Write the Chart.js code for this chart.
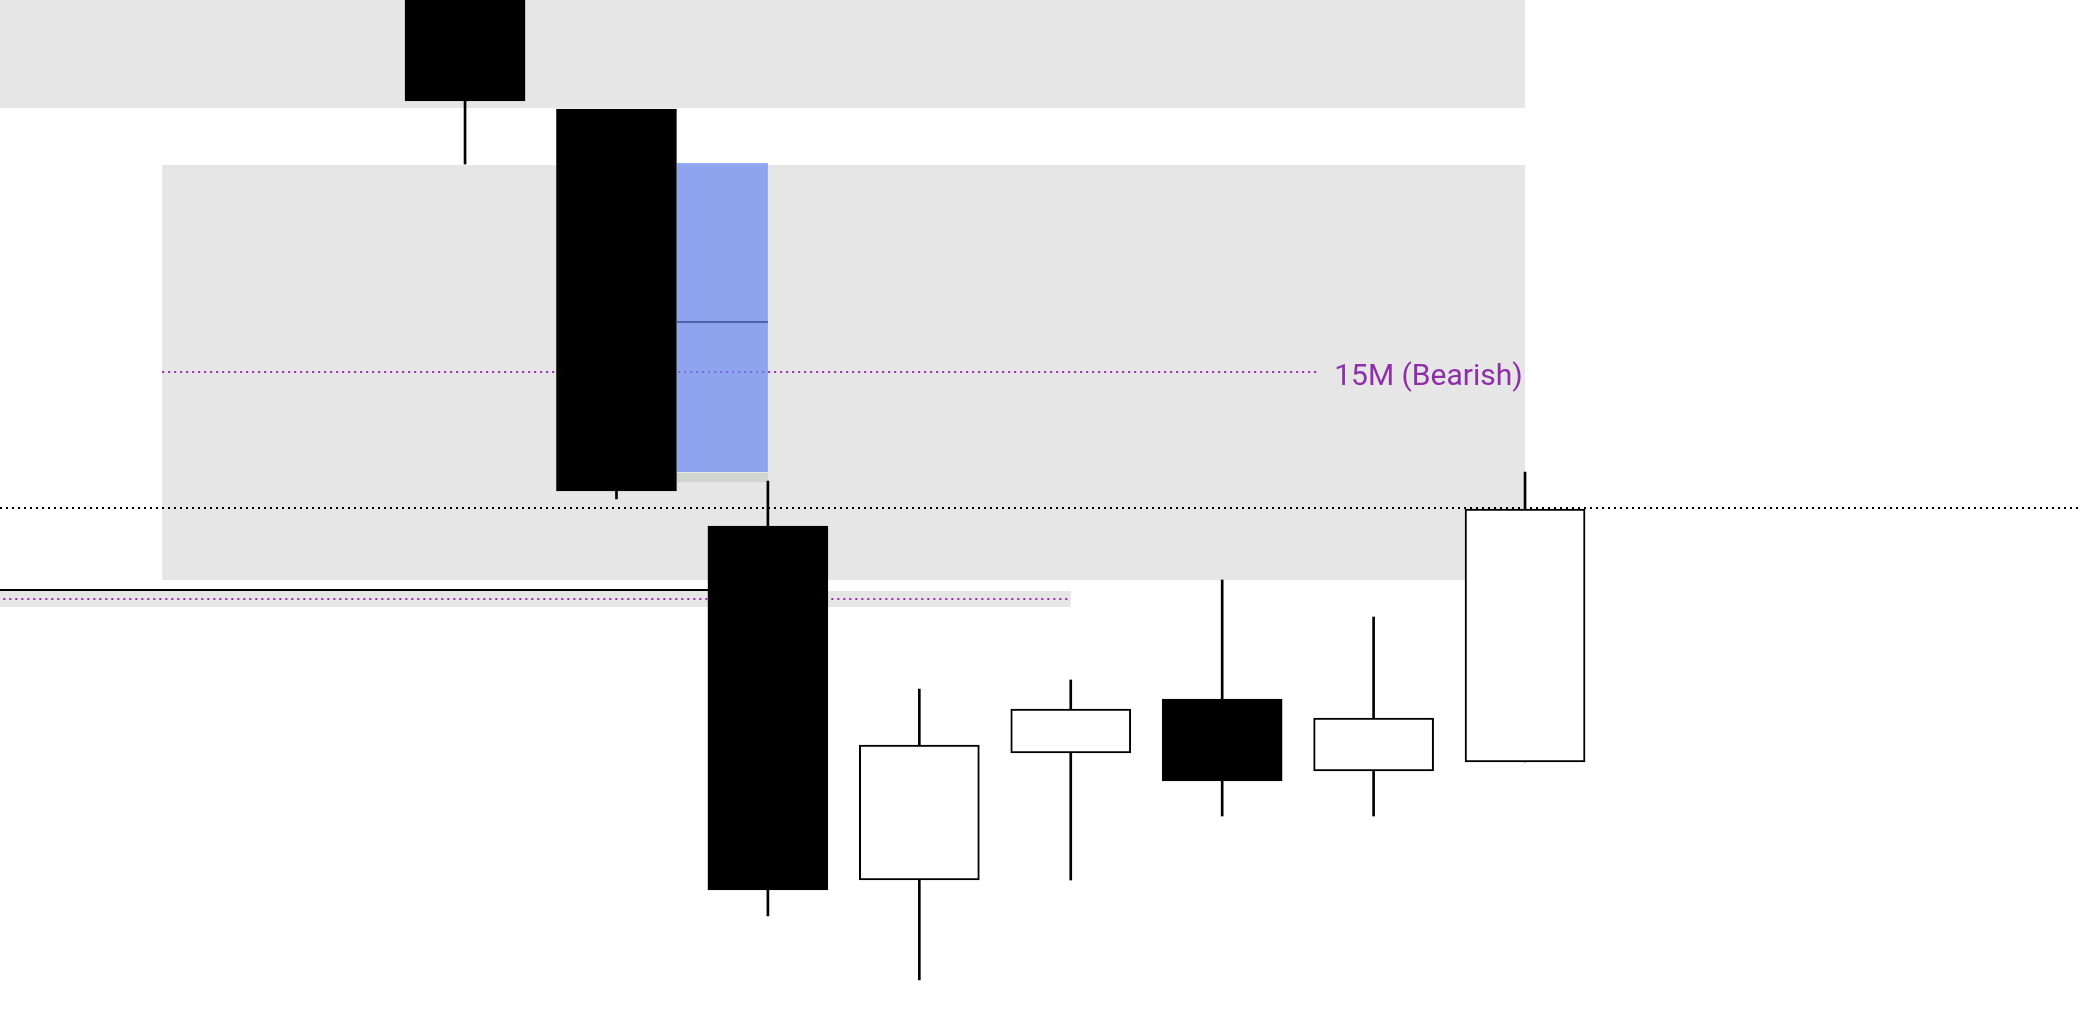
<!DOCTYPE html>
<html>
<head>
<meta charset="utf-8">
<script src="https://cdn.jsdelivr.net/npm/chart.js@4.4.0/dist/chart.umd.min.js"></script>
<style>
  html, body { margin: 0; padding: 0; background: #fff; }
  #wrap { width: 2082px; height: 1024px; }
</style>
</head>
<body>
<div id="wrap"><canvas id="chart" width="2082" height="1024"></canvas></div>
<script>
// --- CANDLES (bar index, OHLC) ---
const candleIdx = [0, 1, 2, 3, 4, 5, 6, 7];
const opens  = [2005.4, 1991.5, 1949.8, 1914.4, 1927.1, 1932.5, 1925.3, 1926.2];
const highs  = [2008.0, 1991.2, 1954.3, 1933.5, 1934.4, 1944.4, 1940.7, 1955.2];
const lows   = [1986.0, 1952.5, 1910.8, 1904.4, 1914.4, 1920.8, 1920.8, 1926.2];
const closes = [1992.3, 1953.3, 1913.4, 1927.9, 1931.5, 1924.3, 1930.6, 1951.5];

// --- VISIBLE RANGE ---
const xRange = [-3.071, 10.678];
const yRange = [1900, 2002.4];

// --- GREY ZONES (from bar, to bar, upper price, lower price) ---
const zoneFrom = [-4, -2, -4];
const zoneTo   = [7, 7, 4];
const zoneHigh = [2010, 1985.9, 1943.3];
const zoneLow  = [1991.6, 1944.4, 1941.7];

// --- GAP BOX (blue) ---
const gapFrom = 1.4;
const gapTo = 2;
const gapHigh = 1986.1;
const gapLow = 1955.2;
const gapMid = 1970.2;
const gapEdge = [1955.1, 1954.2];

// --- LEVELS ---
const dottedLevel = 1951.6;        // black dotted, full width
const solidLevel = 1943.4;         // black solid
const solidTo = 2;
const purpleLevels = [1965.2, 1942.5];
const purpleFrom = [-2, -4];
const purpleTo = [5.64, 4];
const levelLabel = '15M (Bearish)';
const labelAt = 5.74;

const bodyColors = candleIdx.map(i => (closes[i] < opens[i] ? '#000000' : '#ffffff'));

const overlayPlugin = {
  id: 'overlays',
  beforeDatasetsDraw(chart) {
    const { ctx, scales: { x, y } } = chart;
    ctx.save();

    // grey zones
    ctx.fillStyle = '#e6e6e6';
    zoneFrom.forEach((from, i) => {
      const l = x.getPixelForValue(from);
      const r = x.getPixelForValue(zoneTo[i]);
      const t = y.getPixelForValue(zoneHigh[i]);
      const b = y.getPixelForValue(zoneLow[i]);
      ctx.fillRect(l, t, r - l, b - t);
    });

    // black dotted level across the chart
    ctx.lineWidth = 2;
    ctx.setLineDash([2, 4]);
    ctx.strokeStyle = '#000';
    let py = y.getPixelForValue(dottedLevel);
    ctx.beginPath();
    ctx.moveTo(x.getPixelForValue(xRange[0]), py);
    ctx.lineTo(x.getPixelForValue(xRange[1]), py);
    ctx.stroke();

    // purple dotted levels
    ctx.strokeStyle = '#9c27b0';
    purpleLevels.forEach((lvl, i) => {
      const p = y.getPixelForValue(lvl);
      ctx.beginPath();
      ctx.moveTo(x.getPixelForValue(purpleFrom[i]), p);
      ctx.lineTo(x.getPixelForValue(purpleTo[i]), p);
      ctx.stroke();
    });

    // solid black level
    ctx.setLineDash([]);
    ctx.strokeStyle = '#000';
    py = y.getPixelForValue(solidLevel);
    ctx.beginPath();
    ctx.moveTo(x.getPixelForValue(-4), py);
    ctx.lineTo(x.getPixelForValue(solidTo), py);
    ctx.stroke();

    // blue gap box
    const gl = x.getPixelForValue(gapFrom);
    const gr = x.getPixelForValue(gapTo);
    const gt = y.getPixelForValue(gapHigh);
    const gb = y.getPixelForValue(gapLow);
    ctx.fillStyle = 'rgba(104, 136, 241, 0.7)';
    ctx.fillRect(gl, gt, gr - gl, gb - gt);
    ctx.fillStyle = '#d0d5d0';
    const et = y.getPixelForValue(gapEdge[0]);
    const eb = y.getPixelForValue(gapEdge[1]);
    ctx.fillRect(gl, et, gr - gl, eb - et);
    ctx.strokeStyle = '#4e64b0';
    ctx.lineWidth = 2;
    const my = y.getPixelForValue(gapMid);
    ctx.beginPath();
    ctx.moveTo(gl, my);
    ctx.lineTo(gr, my);
    ctx.stroke();

    // level label
    ctx.fillStyle = '#8e2ea8';
    ctx.font = '30px Roboto, "Noto Sans", sans-serif';
    ctx.textBaseline = 'alphabetic';
    ctx.textAlign = 'left';
    ctx.fillText(levelLabel, x.getPixelForValue(labelAt), y.getPixelForValue(purpleLevels[0]) + 13);

    ctx.restore();
  }
};

new Chart(document.getElementById('chart'), {
  type: 'bar',
  data: {
    datasets: [
      {
        label: 'body',
        data: candleIdx.map(i => ({ x: i, y: [opens[i], closes[i]] })),
        backgroundColor: bodyColors,
        borderColor: '#000',
        borderWidth: 2,
        borderSkipped: false,
        barThickness: 120,
        grouped: false
      },
      {
        label: 'wick',
        data: candleIdx.map(i => ({ x: i, y: [lows[i], highs[i]] })),
        backgroundColor: '#000',
        borderWidth: 0,
        barThickness: 2,
        grouped: false
      }
    ]
  },
  options: {
    responsive: false,
    animation: false,
    layout: { padding: 0 },
    scales: {
      x: { type: 'linear', min: xRange[0], max: xRange[1], offset: false, display: false },
      y: { type: 'linear', min: yRange[0], max: yRange[1], display: false }
    },
    plugins: {
      legend: { display: false },
      tooltip: { enabled: false }
    }
  },
  plugins: [overlayPlugin]
});
</script>
</body>
</html>
